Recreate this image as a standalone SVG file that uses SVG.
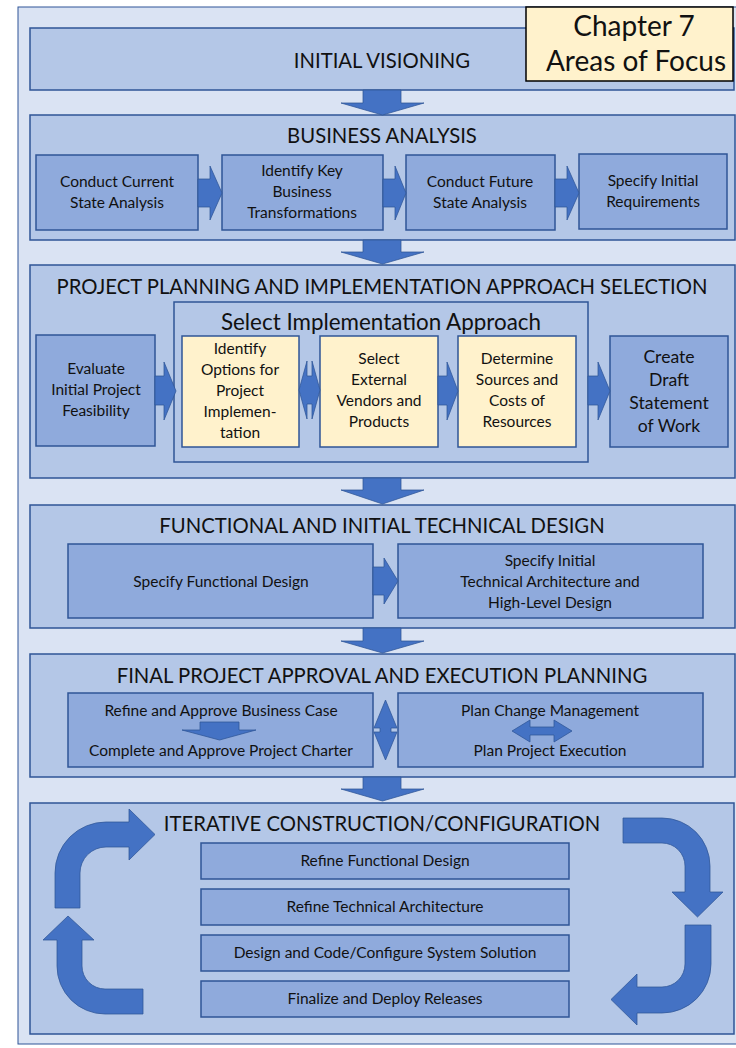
<svg xmlns="http://www.w3.org/2000/svg" width="736" height="1048" viewBox="0 0 736 1048">
  <style>
    .bg { fill: #dae3f3; stroke: #2f5597; stroke-width: 1; }
    .sec { fill: #b4c7e7; stroke: #2f5597; stroke-width: 1.5; }
    .sub { fill: #8faadc; stroke: #2f5597; stroke-width: 1.5; }
    .yel { fill: #fff2cc; stroke: #2f5597; stroke-width: 1.5; }
    .arr { fill: #4472c4; stroke: #2f5597; stroke-width: 0.75; }
    text { font-family: Lato, "Liberation Sans", sans-serif; fill: #111; text-anchor: middle; }
    .t1 { font-size: 20.3px; }
    .t2 { font-size: 15.5px; }
    .t3 { font-size: 17.6px; }
  </style>

  <rect class="bg" x="18" y="7" width="730" height="1037"/>

  <!-- Initial visioning -->
  <g id="initial-visioning">
    <rect class="sec" x="30" y="28" width="704" height="62"/>
    <text class="t1" x="382" y="68">INITIAL VISIONING</text>
  </g>

  <!-- Business analysis -->
  <g id="business-analysis">
    <rect class="sec" x="30" y="115" width="705" height="125"/>
    <text class="t1" x="382" y="143">BUSINESS ANALYSIS</text>
  </g>
  <g id="current-state">
    <rect class="sub" x="36" y="155" width="162" height="75"/>
    <text class="t2" x="117" y="187">Conduct Current</text>
    <text class="t2" x="117" y="208">State Analysis</text>
  </g>
  <g id="key-transformations">
    <rect class="sub" x="222" y="155" width="161" height="75"/>
    <text class="t2" x="302" y="176">Identify Key</text>
    <text class="t2" x="302" y="197">Business</text>
    <text class="t2" x="302" y="218">Transformations</text>
  </g>
  <g id="future-state">
    <rect class="sub" x="406" y="155" width="149" height="75"/>
    <text class="t2" x="480" y="187">Conduct Future</text>
    <text class="t2" x="480" y="208">State Analysis</text>
  </g>
  <g id="initial-requirements">
    <rect class="sub" x="579" y="154" width="148" height="75"/>
    <text class="t2" x="653" y="186">Specify Initial</text>
    <text class="t2" x="653" y="207">Requirements</text>
  </g>

  <!-- Project planning -->
  <g id="project-planning">
    <rect class="sec" x="30" y="265" width="705" height="213"/>
    <text class="t1" x="382" y="294">PROJECT PLANNING AND IMPLEMENTATION APPROACH SELECTION</text>
  </g>
  <g id="select-approach">
    <rect class="sec" x="174" y="302" width="414" height="160"/>
    <text style="font-size:22.4px" x="381" y="330">Select Implementation Approach</text>
  </g>
  <g id="feasibility">
    <rect class="sub" x="36" y="335" width="119" height="111"/>
    <text class="t2" x="96" y="374">Evaluate</text>
    <text class="t2" x="96" y="395">Initial Project</text>
    <text class="t2" x="96" y="416">Feasibility</text>
  </g>
  <g id="identify-options">
    <rect class="yel" x="182" y="336" width="117" height="111"/>
    <text class="t2" x="240" y="354">Identify</text>
    <text class="t2" x="240" y="375">Options for</text>
    <text class="t2" x="240" y="396">Project</text>
    <text class="t2" x="240" y="417">Implemen-</text>
    <text class="t2" x="240" y="438">tation</text>
  </g>
  <g id="external-vendors">
    <rect class="yel" x="320" y="336" width="118" height="111"/>
    <text class="t2" x="379" y="364">Select</text>
    <text class="t2" x="379" y="385">External</text>
    <text class="t2" x="379" y="406">Vendors and</text>
    <text class="t2" x="379" y="427">Products</text>
  </g>
  <g id="sources-costs">
    <rect class="yel" x="458" y="336" width="118" height="111"/>
    <text class="t2" x="517" y="364">Determine</text>
    <text class="t2" x="517" y="385">Sources and</text>
    <text class="t2" x="517" y="406">Costs of</text>
    <text class="t2" x="517" y="427">Resources</text>
  </g>
  <g id="statement-of-work">
    <rect class="sub" x="610" y="336" width="118" height="111"/>
    <text class="t3" x="669" y="363">Create</text>
    <text class="t3" x="669" y="386">Draft</text>
    <text class="t3" x="669" y="409">Statement</text>
    <text class="t3" x="669" y="432">of Work</text>
  </g>

  <!-- Functional and initial technical design -->
  <g id="functional-technical">
    <rect class="sec" x="30" y="505" width="705" height="123"/>
    <text class="t1" x="382" y="533">FUNCTIONAL AND INITIAL TECHNICAL DESIGN</text>
  </g>
  <g id="functional-design">
    <rect class="sub" x="68" y="544" width="305" height="74"/>
    <text class="t2" x="221" y="587">Specify Functional Design</text>
  </g>
  <g id="technical-architecture">
    <rect class="sub" x="398" y="544" width="305" height="74"/>
    <text class="t2" x="550" y="566">Specify Initial</text>
    <text class="t2" x="550" y="587">Technical Architecture and</text>
    <text class="t2" x="550" y="608">High-Level Design</text>
  </g>

  <!-- Final approval and execution planning -->
  <g id="final-approval">
    <rect class="sec" x="30" y="654" width="705" height="123"/>
    <text class="t1" x="382" y="683">FINAL PROJECT APPROVAL AND EXECUTION PLANNING</text>
  </g>
  <g id="business-case-charter">
    <rect class="sub" x="68" y="693" width="305" height="74"/>
    <text class="t2" x="221" y="716">Refine and Approve Business Case</text>
    <text class="t2" x="221" y="756">Complete and Approve Project Charter</text>
  </g>
  <g id="change-execution">
    <rect class="sub" x="398" y="693" width="305" height="74"/>
    <text class="t2" x="550" y="716">Plan Change Management</text>
    <text class="t2" x="550" y="756">Plan Project Execution</text>
  </g>

  <!-- Iterative construction -->
  <g id="iterative-construction">
    <rect class="sec" x="30" y="803" width="704" height="231"/>
    <text class="t1" x="382" y="831">ITERATIVE CONSTRUCTION/CONFIGURATION</text>
  </g>
  <g id="refine-functional">
    <rect class="sub" x="201" y="843" width="368" height="36"/>
    <text class="t2" x="385" y="866">Refine Functional Design</text>
  </g>
  <g id="refine-technical">
    <rect class="sub" x="201" y="889" width="368" height="36"/>
    <text class="t2" x="385" y="912">Refine Technical Architecture</text>
  </g>
  <g id="design-code">
    <rect class="sub" x="201" y="935" width="368" height="36"/>
    <text class="t2" x="385" y="958">Design and Code/Configure System Solution</text>
  </g>
  <g id="deploy-releases">
    <rect class="sub" x="201" y="981" width="368" height="36"/>
    <text class="t2" x="385" y="1004">Finalize and Deploy Releases</text>
  </g>

  <!-- Block arrows -->
  <g id="connectors">
    <!-- downward arrows between stages -->
    <polygon class="arr" points="363,90 401,90 401,103 424,103 382.5,115 341,103 363,103"/>
    <polygon class="arr" points="363,240 401,240 401,252 424,252 382.5,264 341,252 363,252"/>
    <polygon class="arr" points="363,478 401,478 401,490 424,490 382.5,504 341,490 363,490"/>
    <polygon class="arr" points="363,628 401,628 401,641 424,641 382.5,653 341,641 363,641"/>
    <polygon class="arr" points="363,777 401,777 401,789 424,789 382.5,801 341,789 363,789"/>

    <!-- business analysis flow -->
    <polygon class="arr" points="198,179 210,179 210,166 222,193 210,220 210,207 198,207"/>
    <polygon class="arr" points="383,179 395,179 395,166 406,193 395,220 395,207 383,207"/>
    <polygon class="arr" points="555,179 567,179 567,166 579,193 567,220 567,207 555,207"/>

    <!-- project planning flow -->
    <polygon class="arr" points="155,376 164,376 164,362 176,391 164,420 164,405 155,405"/>
    <polygon class="arr" points="299,390 307,361 307,376 312,376 312,361 320,390 312,419 312,404 307,404 307,419"/>
    <polygon class="arr" points="438,376 447,376 447,362 458,391 447,420 447,405 438,405"/>
    <polygon class="arr" points="588,376 598,376 598,362 610,391 598,420 598,405 588,405"/>

    <!-- functional to technical design -->
    <polygon class="arr" points="373,567 384,567 384,558 398,581 384,604 384,595 373,595"/>

    <!-- final approval inner arrows -->
    <polygon class="arr" points="200,722 239,722 239,730 256,730 219.5,740 182,730 200,730"/>
    <polygon class="arr" points="385.5,700 397,728 391,728 391,732 397,732 385.5,760 374,732 380,732 380,728 374,728"/>
    <polygon class="arr" points="512,731 530,720 530,727 554,727 554,720 572,731 554,742 554,735 530,735 530,742"/>

    <!-- iteration cycle -->
    <path class="arr" d="M55,908 L55,873 A51,51 0 0 1 106,822 L129,822 L129,809 L155,834.5 L129,860 L129,847 L106,847 A26,26 0 0 0 80,873 L80,908 Z"/>
    <path class="arr" d="M623,818 L662,818 A48,48 0 0 1 710,866 L710,892 L723,892 L697.5,917 L672,892 L685,892 L685,866 A23,23 0 0 0 662,843 L623,843 Z"/>
    <path class="arr" d="M685,925 L711,925 L711,964 A49,49 0 0 1 662,1013 L637,1013 L637,1025 L611,999.5 L637,974 L637,987 L662,987 A23,23 0 0 0 685,964 Z"/>
    <path class="arr" d="M68,916 L94,940 L82,940 L82,966 A23,23 0 0 0 105,989 L143,989 L143,1014 L105,1014 A48,48 0 0 1 57,966 L57,940 L43,940 Z"/>
  </g>

  <!-- Chapter label -->
  <g id="chapter-label">
    <rect x="526" y="7" width="207" height="74" fill="#fff2cc" stroke="#000" stroke-width="1.5"/>
    <text x="634" y="36" style="font-size:28px">Chapter 7</text>
    <text x="636" y="71" style="font-size:28px">Areas of Focus</text>
  </g>
</svg>
